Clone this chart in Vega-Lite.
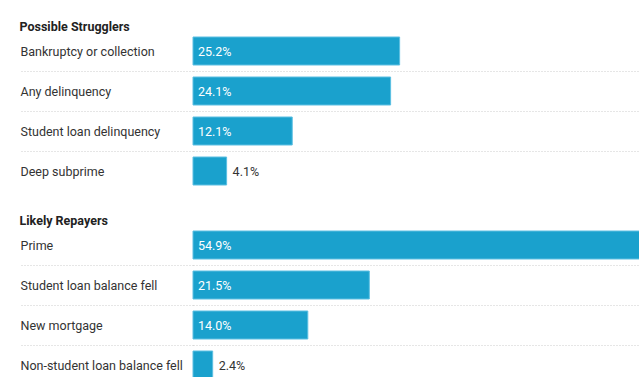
{
  "$schema": "https://vega.github.io/schema/vega-lite/v6.json",
  "padding": {"left": 19, "top": 20, "right": 0, "bottom": 0},
  "spacing": 22,
  "config": {
    "view": {"stroke": null},
    "font": "Roboto",
    "title": {"anchor": "start", "frame": "bounds", "fontSize": 12.5, "fontWeight": "bold", "color": "#222222", "offset": -2, "font": "Roboto"}
  },
  "datasets": {
    "rows": [
      {"group": "Possible Strugglers", "item": "Bankruptcy or collection", "value": 25.2, "label": "25.2%"},
      {"group": "Possible Strugglers", "item": "Any delinquency", "value": 24.1, "label": "24.1%"},
      {"group": "Possible Strugglers", "item": "Student loan delinquency", "value": 12.1, "label": "12.1%"},
      {"group": "Possible Strugglers", "item": "Deep subprime", "value": 4.1, "label": "4.1%"},
      {"group": "Likely Repayers", "item": "Prime", "value": 54.9, "label": "54.9%"},
      {"group": "Likely Repayers", "item": "Student loan balance fell", "value": 21.5, "label": "21.5%"},
      {"group": "Likely Repayers", "item": "New mortgage", "value": 14.0, "label": "14.0%"},
      {"group": "Likely Repayers", "item": "Non-student loan balance fell", "value": 2.4, "label": "2.4%"}
    ]
  },
  "vconcat": [
    {
      "title": "Possible Strugglers",
      "width": 451,
      "height": {"step": 40},
      "data": {"name": "rows"},
      "transform": [{"filter": "datum.group === 'Possible Strugglers'"}],
      "encoding": {
        "y": {
          "field": "item", "type": "nominal", "sort": null,
          "scale": {"paddingInner": 0, "paddingOuter": 0},
          "axis": {
            "title": null, "domain": false, "bandPosition": 1,
            "ticks": true, "tickSize": 173, "tickDash": [1, 2], "tickWidth": 1,
            "tickColor": {"condition": {"test": "datum.value === 'Deep subprime'", "value": "transparent"}, "value": "#cccccc"},
            "grid": true, "gridDash": [1, 2], "gridWidth": 1,
            "gridColor": {"condition": {"test": "datum.value === 'Deep subprime'", "value": "transparent"}, "value": "#cccccc"},
            "labelAlign": "left", "labelPadding": 0, "labelFontSize": 12.5, "labelColor": "#333333", "labelFont": "Roboto", "labelLimit": 0, "labelOffset": 1
          }
        }
      },
      "layer": [
        {
          "mark": {"type": "bar", "height": {"band": 0.7}, "color": "#1aa1cd", "stroke": "#5cbfe2", "strokeWidth": 1},
          "encoding": {"x": {"field": "value", "type": "quantitative", "scale": {"domain": [0, 55], "nice": false}, "axis": null}}
        },
        {
          "mark": {"type": "text", "align": "left", "dx": 5, "dy": 1, "color": "white", "fontSize": 12.5},
          "encoding": {
            "x": {"datum": 0, "type": "quantitative", "axis": null},
            "text": {"condition": {"test": "datum.value < 10", "value": ""}, "field": "label"}
          }
        },
        {
          "mark": {"type": "text", "align": "left", "dx": 6, "dy": 1, "color": "#333333", "fontSize": 12.5},
          "encoding": {
            "x": {"field": "value", "type": "quantitative", "axis": null},
            "text": {"condition": {"test": "datum.value >= 10", "value": ""}, "field": "label"}
          }
        }
      ]
    },
    {
      "title": "Likely Repayers",
      "width": 451,
      "height": {"step": 40},
      "data": {"name": "rows"},
      "transform": [{"filter": "datum.group === 'Likely Repayers'"}],
      "encoding": {
        "y": {
          "field": "item", "type": "nominal", "sort": null,
          "scale": {"paddingInner": 0, "paddingOuter": 0},
          "axis": {
            "title": null, "domain": false, "bandPosition": 1,
            "ticks": true, "tickSize": 173, "tickDash": [1, 2], "tickWidth": 1,
            "tickColor": {"condition": {"test": "datum.value === 'Non-student loan balance fell'", "value": "transparent"}, "value": "#cccccc"},
            "grid": true, "gridDash": [1, 2], "gridWidth": 1,
            "gridColor": {"condition": {"test": "datum.value === 'Non-student loan balance fell'", "value": "transparent"}, "value": "#cccccc"},
            "labelAlign": "left", "labelPadding": 0, "labelFontSize": 12.5, "labelColor": "#333333", "labelFont": "Roboto", "labelLimit": 0, "labelOffset": 1
          }
        }
      },
      "layer": [
        {
          "mark": {"type": "bar", "height": {"band": 0.7}, "color": "#1aa1cd", "stroke": "#5cbfe2", "strokeWidth": 1},
          "encoding": {"x": {"field": "value", "type": "quantitative", "scale": {"domain": [0, 55], "nice": false}, "axis": null}}
        },
        {
          "mark": {"type": "text", "align": "left", "dx": 5, "dy": 1, "color": "white", "fontSize": 12.5},
          "encoding": {
            "x": {"datum": 0, "type": "quantitative", "axis": null},
            "text": {"condition": {"test": "datum.value < 10", "value": ""}, "field": "label"}
          }
        },
        {
          "mark": {"type": "text", "align": "left", "dx": 6, "dy": 1, "color": "#333333", "fontSize": 12.5},
          "encoding": {
            "x": {"field": "value", "type": "quantitative", "axis": null},
            "text": {"condition": {"test": "datum.value >= 10", "value": ""}, "field": "label"}
          }
        }
      ]
    }
  ]
}
